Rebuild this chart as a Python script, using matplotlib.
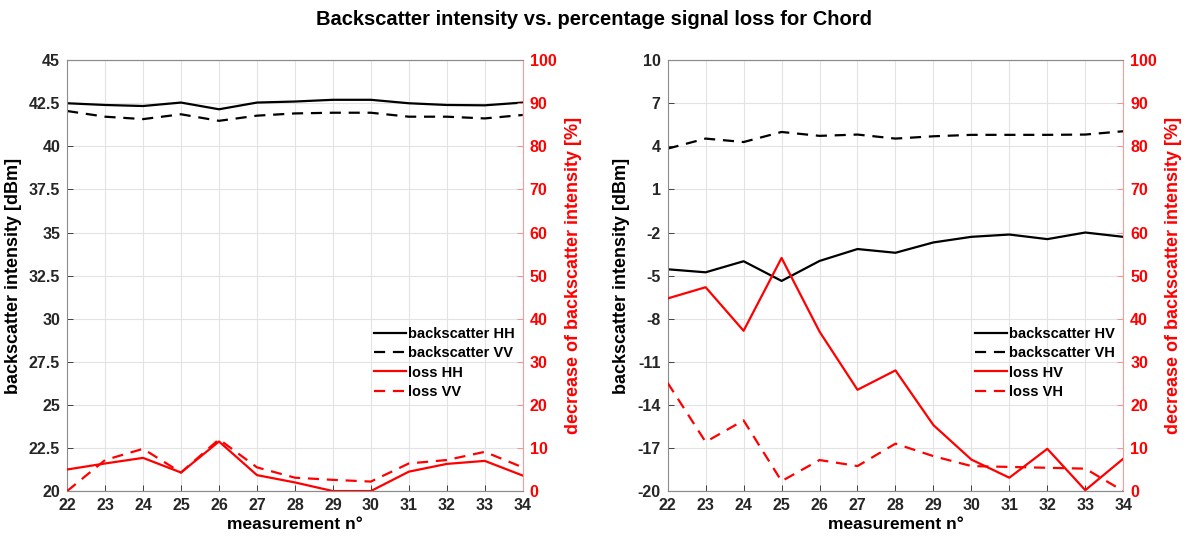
import numpy as np
import matplotlib
matplotlib.use('Agg')
import matplotlib.pyplot as plt

plt.rcParams['font.family'] = ['Liberation Sans', 'DejaVu Sans']
plt.rcParams['font.weight'] = 'bold'
plt.rcParams['axes.labelweight'] = 'bold'

# measurement numbers
meas = np.arange(22, 35)

# co-polarised channels (left panel)
bs_hh = [42.5, 42.40, 42.34, 42.54, 42.15, 42.54, 42.60, 42.70, 42.70, 42.50, 42.40, 42.38, 42.54]
bs_vv = [42.05, 41.72, 41.58, 41.86, 41.48, 41.78, 41.91, 41.95, 41.95, 41.72, 41.72, 41.62, 41.82]
loss_hh = [5.0, 6.4, 7.7, 4.3, 11.5, 3.7, 2.0, 0.0, 0.0, 4.5, 6.3, 7.0, 3.6]
loss_vv = [0.0, 7.2, 9.8, 4.3, 12.0, 5.5, 3.1, 2.6, 2.2, 6.4, 7.2, 9.1, 5.5]

# cross-polarised channels (right panel)
bs_hv = [-4.56, -4.77, -4.0, -5.37, -3.98, -3.15, -3.41, -2.69, -2.30, -2.14, -2.46, -2.0, -2.30]
bs_vh = [3.84, 4.54, 4.30, 5.0, 4.73, 4.82, 4.54, 4.70, 4.80, 4.80, 4.80, 4.82, 5.05]
loss_hv = [44.7, 47.3, 37.2, 54.1, 37.0, 23.5, 28.0, 15.3, 7.3, 3.1, 9.8, 0.2, 7.5]
loss_vh = [25.1, 11.4, 16.4, 2.3, 7.2, 5.8, 11.0, 8.1, 5.8, 5.6, 5.4, 5.2, 0.0]

left_ticks = [np.arange(20, 45.1, 2.5), np.arange(-20, 10.1, 3)]
left_ticklabels = [['20', '22.5', '25', '27.5', '30', '32.5', '35', '37.5', '40', '42.5', '45'],
                   [str(v) for v in range(-20, 11, 3)]]
pct_ticks = np.arange(0, 101, 10)

RED = '#ff0000'
DASH = (0, (5, 3.5))

fig = plt.figure(figsize=(11.88, 5.42), dpi=100)
fig.suptitle('Backscatter intensity vs. percentage signal loss for Chord',
             fontsize=14.5, fontweight='bold', y=0.982)

panels = [
    (0.0565, bs_hh, bs_vv, loss_hh, loss_vv, ('HH', 'VV'), (20, 45)),
    (0.5620, bs_hv, bs_vh, loss_hv, loss_vh, ('HV', 'VH'), (-20, 10)),
]

for i, (x0, bs_a, bs_b, ls_a, ls_b, pol, ylim) in enumerate(panels):
    ax = fig.add_axes([x0, 0.094, 0.3835, 0.795])
    ax2 = ax.twinx()

    ax.grid(True, color='#e3e3e3', lw=0.8)
    ax.set_axisbelow(True)
    h1, = ax.plot(meas, bs_a, color='black', lw=1.6, label='backscatter ' + pol[0])
    h2, = ax.plot(meas, bs_b, color='black', lw=1.6, ls=DASH, label='backscatter ' + pol[1])
    h3, = ax2.plot(meas, ls_a, color=RED, lw=1.6, label='loss ' + pol[0])
    h4, = ax2.plot(meas, ls_b, color=RED, lw=1.6, ls=DASH, label='loss ' + pol[1])

    ax.set_xlim(22, 34)
    ax.set_xticks(meas)
    ax.set_ylim(*ylim)
    ax.set_yticks(left_ticks[i])
    ax.set_yticklabels(left_ticklabels[i])
    ax2.set_ylim(0, 100)
    ax2.set_yticks(pct_ticks)

    ax.set_xlabel('measurement n°', fontsize=12.5, labelpad=3)
    ax.set_ylabel('backscatter intensity [dBm]', fontsize=13, labelpad=5)
    ax2.set_ylabel('decrease of backscatter intensity [%]', fontsize=13, color=RED, labelpad=6)

    ax.tick_params(axis='both', direction='in', length=4, width=0.6, labelsize=11.5,
                   colors='#262626', labelcolor='#262626', pad=5)
    ax2.tick_params(axis='y', direction='in', length=4, width=0.6, labelsize=11.5,
                    colors='#ff8080', labelcolor=RED, pad=5)
    for t in ax.get_xticklabels() + ax.get_yticklabels() + ax2.get_yticklabels():
        t.set_fontweight('bold')

    for s in ['left', 'bottom', 'top']:
        ax.spines[s].set_color('#8c8c8c')
        ax2.spines[s].set_color('#8c8c8c')
    ax.spines['right'].set_visible(False)
    ax2.spines['right'].set_color('#ff9a9a')
    ax2.spines['left'].set_visible(False)

    ax2.legend(handles=[h1, h2, h3, h4], loc='upper right', bbox_to_anchor=(1.0, 0.40),
               frameon=False, handlelength=2.2, handletextpad=0.15,
               labelspacing=0.37, borderaxespad=0.15, prop={'weight': 'bold', 'size': 10.5})

fig.savefig('out.png', dpi=100)
